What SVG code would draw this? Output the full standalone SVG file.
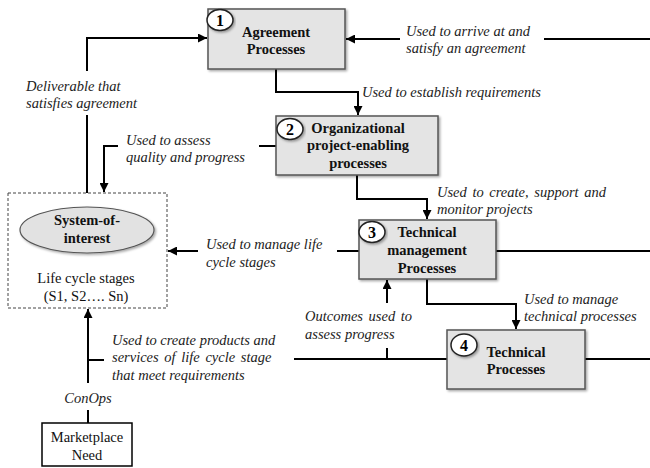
<svg xmlns="http://www.w3.org/2000/svg" width="650" height="468" viewBox="0 0 650 468" font-family="'Liberation Serif', 'DejaVu Serif', serif">
  <defs>
    <filter id="shadow" x="-10%" y="-10%" width="120%" height="130%">
      <feDropShadow dx="1.5" dy="1.5" stdDeviation="1" flood-color="#000" flood-opacity="0.35"/>
    </filter>
    <marker id="arrow" viewBox="0 0 10 10" refX="10" refY="5" markerWidth="4.5" markerHeight="4.5" orient="auto" markerUnits="strokeWidth">
      <path d="M0,0 L10,5 L0,10 z" fill="#000"/>
    </marker>
  </defs>
  <style>
    text { font-family: 'Liberation Serif', 'DejaVu Serif', serif; }
    .proc { fill: #e4e4e4; stroke: #555; stroke-width: 1.5; filter: url(#shadow); }
    .badge { fill: #fff; stroke: #222; stroke-width: 1.5; filter: url(#shadow); }
    .num { font-weight: bold; font-size: 16px; text-anchor: middle; fill: #000; }
    .title { font-weight: bold; font-size: 14.5px; text-anchor: middle; fill: #111; }
    .plain { font-size: 14.5px; text-anchor: middle; fill: #111; }
    .lbl { font-style: italic; font-size: 14.5px; fill: #222; }
    .conn { fill: none; stroke: #000; stroke-width: 2; }
    .conn-a { fill: none; stroke: #000; stroke-width: 2; marker-end: url(#arrow); }
  </style>

  <!-- connectors -->
  <g id="connectors">
    <!-- into Agreement Processes from the right -->
    <line class="conn" x1="650" y1="39" x2="544" y2="39"/>
    <line class="conn-a" x1="400" y1="39" x2="346" y2="39"/>
    <!-- deliverable loop back to Agreement Processes -->
    <line class="conn" x1="87" y1="193" x2="87" y2="115"/>
    <polyline class="conn-a" points="87,71 87,38 207,38"/>
    <!-- Agreement -> Organizational -->
    <polyline class="conn-a" points="276,69 276,92 358,92 358,115"/>
    <!-- Organizational -> System-of-interest -->
    <line class="conn" x1="276" y1="146" x2="259" y2="146"/>
    <polyline class="conn-a" points="118,146 104,146 104,192"/>
    <!-- Organizational -> Technical management -->
    <polyline class="conn-a" points="357,175 357,199 427,199 427,219"/>
    <!-- Technical management -> System-of-interest -->
    <line class="conn" x1="650" y1="251" x2="496" y2="251"/>
    <line class="conn" x1="359" y1="251" x2="337" y2="251"/>
    <line class="conn-a" x1="198" y1="251" x2="168" y2="251"/>
    <!-- Technical management -> Technical -->
    <polyline class="conn-a" points="427,279 427,304 516,304 516,329"/>
    <!-- outcomes feedback -->
    <line class="conn-a" x1="387" y1="303" x2="387" y2="280"/>
    <line class="conn" x1="387" y1="348" x2="387" y2="359"/>
    <line class="conn" x1="294" y1="359" x2="447" y2="359"/>
    <line class="conn" x1="585" y1="359" x2="650" y2="359"/>
    <!-- products and services into the life cycle -->
    <line class="conn-a" x1="88" y1="383" x2="88" y2="309"/>
    <line class="conn" x1="88" y1="360" x2="104" y2="360"/>
    <line class="conn" x1="88" y1="410" x2="88" y2="423"/>
  </g>

  <!-- connector labels -->
  <g id="labels">
    <text class="lbl" x="406" y="36">Used to arrive at and</text>
    <text class="lbl" x="406" y="53">satisfy an agreement</text>
    <text class="lbl" x="26" y="91">Deliverable that</text>
    <text class="lbl" x="26" y="108">satisfies agreement</text>
    <text class="lbl" x="362" y="97">Used to establish requirements</text>
    <text class="lbl" x="126" y="145">Used to assess</text>
    <text class="lbl" x="126" y="162">quality and progress</text>
    <text class="lbl" x="437" y="197" word-spacing="2">Used to create, support and</text>
    <text class="lbl" x="437" y="214">monitor projects</text>
    <text class="lbl" x="206" y="249">Used to manage life</text>
    <text class="lbl" x="206" y="267">cycle stages</text>
    <text class="lbl" x="524" y="304">Used to manage</text>
    <text class="lbl" x="524" y="321">technical processes</text>
    <text class="lbl" x="305" y="321" word-spacing="2">Outcomes used to</text>
    <text class="lbl" x="305" y="339">assess progress</text>
    <text class="lbl" x="112" y="345">Used to create products and</text>
    <text class="lbl" x="112" y="362" word-spacing="2">services of life cycle stage</text>
    <text class="lbl" x="112" y="380">that meet requirements</text>
    <text class="lbl" x="88" y="403" text-anchor="middle">ConOps</text>
  </g>

  <!-- 1: Agreement Processes -->
  <g id="agreement">
    <rect class="proc" x="208" y="9" width="137" height="60"/>
    <ellipse class="badge" cx="220" cy="20" rx="13" ry="10.5"/>
    <text class="num" x="220" y="26">1</text>
    <text class="title" x="276" y="37">Agreement</text>
    <text class="title" x="276" y="54">Processes</text>
  </g>

  <!-- 2: Organizational project-enabling processes -->
  <g id="organizational">
    <rect class="proc" x="276" y="116" width="162" height="59"/>
    <ellipse class="badge" cx="290" cy="129" rx="13" ry="10.5"/>
    <text class="num" x="290" y="135">2</text>
    <text class="title" x="358" y="133">Organizational</text>
    <text class="title" x="358" y="150">project-enabling</text>
    <text class="title" x="358" y="168">processes</text>
  </g>

  <!-- 3: Technical management Processes -->
  <g id="technical-management">
    <rect class="proc" x="359" y="220" width="137" height="59"/>
    <ellipse class="badge" cx="372" cy="232" rx="13" ry="10.5"/>
    <text class="num" x="372" y="238">3</text>
    <text class="title" x="427" y="237">Technical</text>
    <text class="title" x="427" y="255">management</text>
    <text class="title" x="427" y="273">Processes</text>
  </g>

  <!-- 4: Technical Processes -->
  <g id="technical">
    <rect class="proc" x="447" y="330" width="138" height="59"/>
    <ellipse class="badge" cx="464" cy="345" rx="13" ry="11"/>
    <text class="num" x="464" y="351">4</text>
    <text class="title" x="516" y="357">Technical</text>
    <text class="title" x="516" y="374">Processes</text>
  </g>

  <!-- System-of-interest with its life cycle -->
  <g id="system-of-interest">
    <rect x="8" y="193" width="159" height="115" fill="#fff" stroke="#444" stroke-width="1" stroke-dasharray="3,2"/>
    <ellipse cx="87" cy="230" rx="67" ry="23" fill="#e2e2e2" stroke="#555" stroke-width="1.2" filter="url(#shadow)"/>
    <text class="title" x="87" y="225">System-of-</text>
    <text class="title" x="87" y="243">interest</text>
    <text class="plain" x="86" y="283">Life cycle stages</text>
    <text class="plain" x="86" y="301">(S1, S2…. Sn)</text>
  </g>

  <!-- Marketplace Need -->
  <g id="marketplace-need">
    <rect x="42" y="423" width="90" height="43" fill="#fff" stroke="#000" stroke-width="1.5"/>
    <text class="plain" x="87" y="442">Marketplace</text>
    <text class="plain" x="87" y="460">Need</text>
  </g>
</svg>
